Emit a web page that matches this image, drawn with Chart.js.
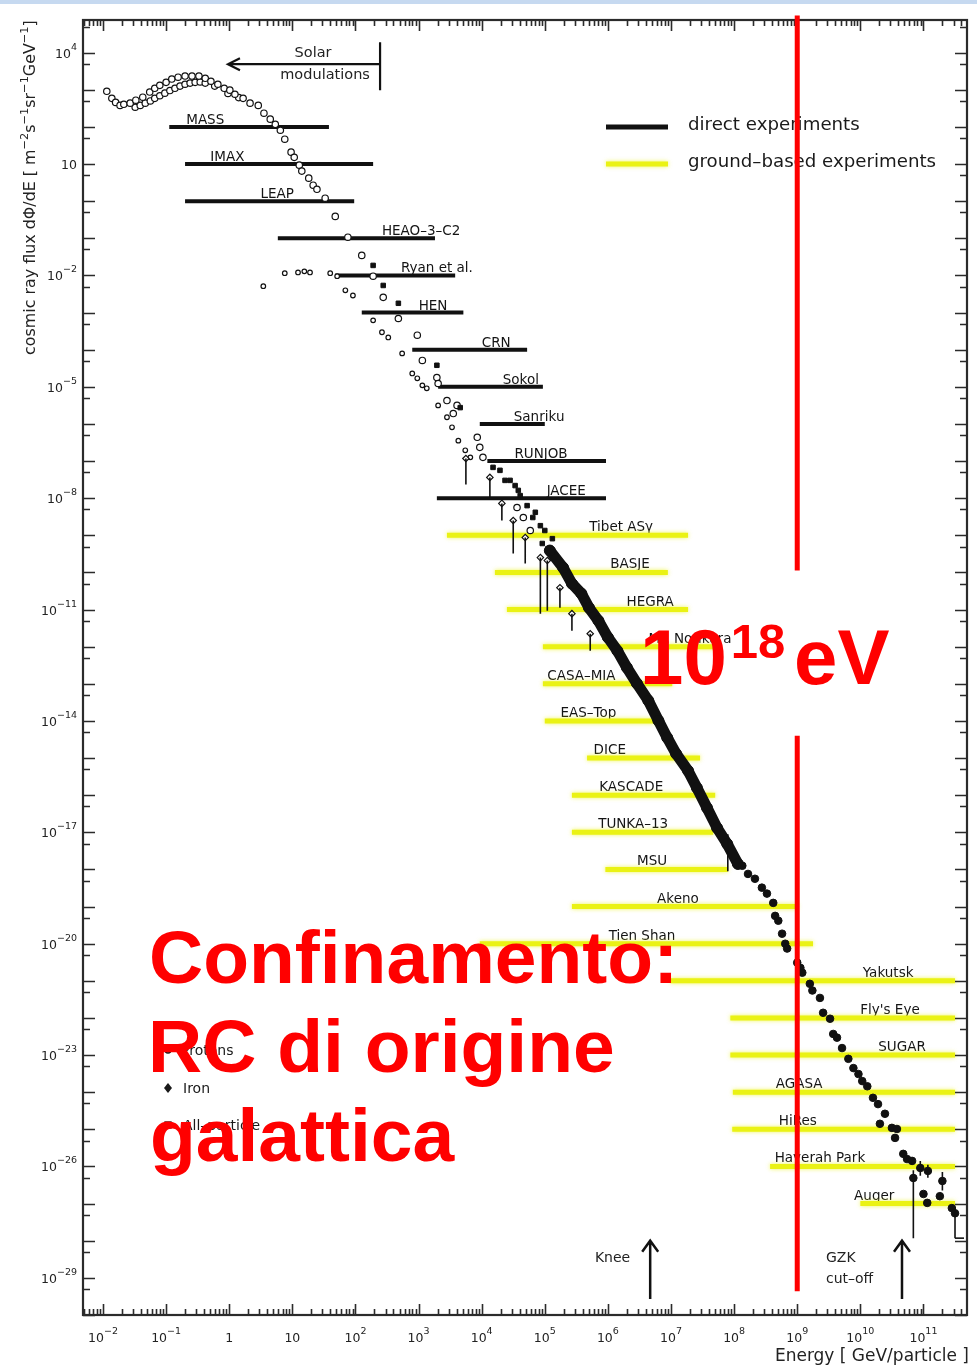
<!DOCTYPE html>
<html>
<head>
<meta charset="utf-8">
<title>Cosmic ray spectrum</title>
<script src="https://cdn.jsdelivr.net/npm/chart.js@4.4.1/dist/chart.umd.min.js"></script>
<style>
  html, body { margin: 0; padding: 0; background: #fff; }
  #wrap { position: relative; width: 977px; height: 1365px; overflow: hidden; }
  #wrap canvas { position: absolute; left: 0; top: 0; }
  #topband { position: absolute; left: 0; top: 0; width: 977px; height: 4px; background: #c6d9f0; }
</style>
</head>
<body>
<div id="wrap">
  <canvas id="spectrum" width="977" height="1365"></canvas>
  <div id="topband"></div>
</div>
<script>
// All values: [log10(E / GeV), log10(flux / m^-2 s^-1 sr^-1 GeV^-1)]

// low-energy proton measurements (open circles)
const protonsLow = [
  [-1.94,2.96],[-1.86,2.77],[-1.80,2.66],[-1.73,2.58],[-1.67,2.61],[-1.57,2.64],[-1.48,2.72],[-1.37,2.80],
  [-1.26,2.94],[-1.18,3.04],[-1.10,3.12],[-1.00,3.20],[-0.91,3.29],[-0.81,3.34],[-0.70,3.37],[-0.59,3.37],
  [-0.48,3.37],[-0.38,3.31],[-0.29,3.23],[-0.18,3.15],[-0.08,3.04],[0.01,2.99],[0.09,2.88],[0.22,2.77],
  [0.33,2.64],[0.46,2.58],[0.55,2.37],[0.65,2.21],[0.73,2.07],[0.81,1.91],[0.88,1.67],[0.98,1.32],
  [1.03,1.18],[1.11,0.97],[1.15,0.81],[1.26,0.62],[1.33,0.43],[1.39,0.32],[1.52,0.08],[1.68,-0.41],
  [1.88,-0.97],[2.10,-1.46]
];
const protonsLow2 = [
  [-1.49,2.53],[-1.41,2.58],[-1.33,2.64],[-1.25,2.70],[-1.18,2.77],[-1.10,2.84],[-1.02,2.91],[-0.94,2.98],
  [-0.86,3.04],[-0.78,3.10],[-0.70,3.15],[-0.62,3.18],[-0.54,3.20],[-0.46,3.21],[-0.38,3.18],[-0.23,3.10],
  [-0.02,2.90],[0.15,2.79]
];
// iron measurements
const ironPts = [
  [0.54,-2.29],[0.88,-1.94],[1.09,-1.92],[1.19,-1.89],[1.28,-1.92],[1.60,-1.94],[1.71,-2.02],[1.84,-2.40],
  [1.96,-2.54],[2.28,-3.21],[2.42,-3.53],[2.52,-3.67],[2.74,-4.10],[2.90,-4.64],[2.98,-4.77],[3.06,-4.96],
  [3.13,-5.04],[3.31,-5.50],[3.45,-5.82],[3.53,-6.09],[3.63,-6.45],[3.74,-6.71],[3.82,-6.90]
];
// direct measurements between 100 GeV and the knee
const midFilled = [
  [2.28,-1.73],[2.44,-2.27],[2.68,-2.75],[3.29,-4.42],[3.66,-5.56],[4.18,-7.17],[4.45,-7.52],[4.58,-7.79],
  [4.29,-7.25],[4.37,-7.52],[4.53,-7.66],[4.61,-7.93],[4.72,-8.20],[4.85,-8.38],[4.93,-8.74],[5.00,-8.87],
  [5.12,-9.09],[5.05,-9.36],[5.18,-9.68],[4.81,-8.52],[4.96,-9.22]
];
const midOpen = [
  [2.28,-2.02],[2.44,-2.59],[2.68,-3.16],[2.98,-3.61],[3.06,-4.29],[3.29,-4.75],[3.31,-4.91],[3.45,-5.37],
  [3.61,-5.50],[3.55,-5.72],[3.93,-6.36],[3.97,-6.63],[4.02,-6.90],[4.56,-8.25],[4.66,-8.52],[4.77,-8.87]
];
// limits: [log10 E, log10 flux at marker, log10 flux at lower end]
const limitPts = [
  [3.75,-6.93,-7.63],[4.13,-7.44,-7.98],[4.32,-8.14,-8.60],[4.50,-8.60,-9.49],[4.69,-9.06,-9.76],
  [4.93,-9.60,-11.11],[5.04,-9.68,-11.03],[5.24,-10.41,-10.95],[5.43,-11.11,-11.57],[5.72,-11.65,-12.11]
];
// all-particle spectrum (air-shower arrays)
const allParticleBand = [
  [5.08,-9.41],[5.29,-9.87],[5.43,-10.30],[5.58,-10.57],[5.70,-10.95],[5.85,-11.30],[6.00,-11.75],
  [6.15,-12.11],[6.30,-12.56],[6.46,-12.99],[6.64,-13.45],[6.80,-13.99],[6.94,-14.45],[7.08,-14.88],
  [7.27,-15.34],[7.41,-15.80],[7.57,-16.34],[7.73,-16.88],[7.89,-17.31],[8.06,-17.85]
];
const allParticleHigh = [
  [8.13,-17.90],[8.22,-18.12],[8.33,-18.25],[8.44,-18.49],[8.52,-18.65],[8.62,-18.90],[8.65,-19.25],
  [8.70,-19.38],[8.76,-19.73],[8.81,-20.00],[8.84,-20.13],[9.00,-20.51],[9.05,-20.65],[9.08,-20.78],
  [9.20,-21.08],[9.24,-21.26],[9.36,-21.46],[9.41,-21.86],[9.52,-22.02],[9.57,-22.43],[9.63,-22.53],
  [9.71,-22.81],[9.81,-23.10],[9.89,-23.35],[9.97,-23.51],[10.03,-23.70],[10.11,-23.84],[10.20,-24.15],
  [10.28,-24.32],[10.31,-24.85],[10.39,-24.58],[10.50,-24.96],[10.58,-24.99],[10.55,-25.23],[10.68,-25.66],
  [10.74,-25.80],[10.82,-25.85],[10.84,-26.31],[10.95,-26.04],[11.07,-26.12],[11.00,-26.74],[11.06,-26.98],
  [11.30,-26.39],[11.26,-26.80],[11.45,-27.12],[11.50,-27.26]
];
// error bars: [log10 E, upper, lower]
const errorBars = [
  [7.90,-17.05,-18.05],[10.84,-26.10,-27.93],[10.95,-25.85,-26.25],[11.30,-26.15,-26.65],
  [11.07,-25.95,-26.30],[11.50,-27.10,-27.93]
];

// experiment energy ranges (log10 GeV), drawn at one decade of flux each
const directNames   = ['MASS','IMAX','LEAP','HEAO\u20133\u2013C2','Ryan et al.','HEN','CRN','Sokol','Sanriku','RUNJOB','JACEE'];
const directFrom    = [-0.95,-0.70,-0.70,0.77,1.68,2.10,2.90,3.31,3.97,4.09,3.29];
const directTo      = [1.58,2.28,1.98,3.26,3.58,3.71,4.72,4.97,5.00,5.97,5.97];
const directLevel   = [2,1,0,-1,-2,-3,-4,-5,-6,-7,-8];
const directLabelAt = [-0.38,-0.03,0.76,3.04,3.29,3.23,4.23,4.62,4.91,4.94,5.34];

const groundNames   = ['Tibet AS\u03b3','BASJE','HEGRA','Mt. Norikura','CASA\u2013MIA','EAS\u2013Top','DICE','KASCADE','TUNKA\u201313','MSU',
                       'Akeno','Tien Shan','Yakutsk',"Fly's Eye",'SUGAR','AGASA','HiRes','Haverah Park','Auger'];
const groundFrom    = [3.45,4.21,4.40,4.97,4.97,5.00,5.67,5.43,5.43,5.96,5.43,3.97,6.99,7.94,7.94,7.98,7.97,8.57,10.00];
const groundTo      = [7.27,6.95,7.27,7.75,7.02,6.75,7.46,7.70,7.67,7.90,9.01,9.25,11.50,11.50,11.50,11.50,11.50,11.50,11.50];
const groundLevel   = [-9,-10,-11,-12,-13,-14,-15,-16,-17,-18,-19,-20,-21,-22,-23,-24,-25,-26,-27];
const groundLabelAt = [6.21,6.35,6.67,7.30,5.58,5.69,6.03,6.37,6.40,6.70,7.11,6.54,10.44,10.47,10.66,9.03,9.01,9.36,10.22];

// axis decades carrying a label
const yLabelExponents = [4,1,-2,-5,-8,-11,-14,-17,-20,-23,-26,-29];
const xLabelExponents = [-2,-1,0,1,2,3,4,5,6,7,8,9,10,11];

// annotations
const redLineEnergy = 1e9;                         // 10^18 eV expressed in GeV
const redLineSpans  = [[5.0,-9.95],[-14.4,-29.36]]; // log10 flux extents of the two pieces
const kneeEnergy = 6.67, gzkEnergy = 10.66;         // log10 GeV
const arrowFlux = [-28.0,-29.57];                   // log10 flux, head and tail
const solarRange = [2.39,-0.02,3.69];               // from, to (log10 GeV), at log10 flux
const solarBar = [4.28,2.99];

// ---------------------------------------------------------------
const toXY = arr => arr.map(([e, f]) => ({ x: Math.pow(10, e), y: Math.pow(10, f) }));
function rangeSegments(from, to, level) {
  const d = [];
  for (let i = 0; i < from.length; i++) {
    const y = Math.pow(10, level[i]);
    d.push({ x: Math.pow(10, from[i]), y }, { x: Math.pow(10, to[i]), y }, { x: Math.pow(10, to[i]), y: null });
  }
  return d;
}
const BLACK = '#111';
const YELLOW = 'rgb(234,242,20)';
const FONT = '"DejaVu Sans", "Liberation Sans", sans-serif';

function drawSup(ctx, parts, x, y, size, supSize, rise) {
  let cx = x;
  for (const [t, sup] of parts) {
    ctx.font = (sup ? supSize : size) + 'px ' + FONT;
    ctx.fillText(t, cx, sup ? y - rise : y);
    cx += ctx.measureText(t).width;
  }
  return cx - x;
}
function measureSup(ctx, parts, size, supSize) {
  let w = 0;
  for (const [t, sup] of parts) { ctx.font = (sup ? supSize : size) + 'px ' + FONT; w += ctx.measureText(t).width; }
  return w;
}
function expParts(e) {
  if (e === 0) return [['1', 0]];
  if (e === 1) return [['10', 0]];
  return [['10', 0], [(e < 0 ? '\u2212' : '') + Math.abs(e), 1]];
}

const labelsPlugin = {
  id: 'experimentLabels',
  beforeDatasetsDraw(chart) {
    const { ctx, scales: { x, y } } = chart;
    ctx.save();
    ctx.fillStyle = '#141414';
    ctx.textAlign = 'center';
    ctx.textBaseline = 'alphabetic';
    ctx.font = '13.5px ' + FONT;
    directNames.forEach((n, i) => {
      ctx.fillText(n, x.getPixelForValue(Math.pow(10, directLabelAt[i])), y.getPixelForValue(Math.pow(10, directLevel[i])) - 3);
    });
    groundNames.forEach((n, i) => {
      ctx.fillText(n, x.getPixelForValue(Math.pow(10, groundLabelAt[i])), y.getPixelForValue(Math.pow(10, groundLevel[i])) - 4);
    });
    ctx.restore();
  },
  beforeDatasetDraw(chart, args) {
    const ds = chart.data.datasets[args.index];
    if (ds.glow) {
      chart.ctx.save();
      chart.ctx.shadowColor = ds.glow;
      chart.ctx.shadowBlur = 4;
    }
  },
  afterDatasetDraw(chart, args) {
    if (chart.data.datasets[args.index].glow) chart.ctx.restore();
  }
};

const decorPlugin = {
  id: 'decor',
  afterDatasetsDraw(chart) {
    const { ctx, chartArea: a, scales: { x, y } } = chart;
    const X = e => x.getPixelForValue(Math.pow(10, e));
    const Y = f => y.getPixelForValue(Math.pow(10, f));
    ctx.save();

    // vertical error bars and limits
    ctx.strokeStyle = BLACK;
    ctx.lineWidth = 1.6;
    ctx.beginPath();
    for (const [e, t, b] of limitPts) { ctx.moveTo(X(e), Y(t)); ctx.lineTo(X(e), Y(b)); }
    for (const [e, t, b] of errorBars) { ctx.moveTo(X(e), Y(t)); ctx.lineTo(X(e), Y(b)); }
    ctx.stroke();
    // closing hook of the last upper limit
    const last = errorBars[errorBars.length - 1];
    ctx.beginPath();
    ctx.moveTo(X(last[0]), Y(last[2])); ctx.lineTo(X(last[0]) + 9, Y(last[2]));
    ctx.stroke();

    // frame and ticks
    ctx.strokeStyle = '#2b2b2b';
    ctx.lineWidth = 2.2;
    ctx.strokeRect(a.left, a.top, a.right - a.left, a.bottom - a.top);
    ctx.lineWidth = 1.6;
    ctx.beginPath();
    for (let e = -3; e <= 12; e++) for (let m = 1; m <= 9; m++) {
      const v = m * Math.pow(10, e);
      if (v <= x.min || v >= x.max) continue;
      const px = Math.round(x.getPixelForValue(v)) + 0.5;
      const len = m === 1 ? 11 : 6;
      ctx.moveTo(px, a.bottom); ctx.lineTo(px, a.bottom - len);
      ctx.moveTo(px, a.top); ctx.lineTo(px, a.top + len);
    }
    for (let e = -31; e <= 6; e++) for (const [m, len] of [[1, 12], [0.5, 7]]) {
      const v = m * Math.pow(10, e);
      if (v <= y.min || v >= y.max) continue;
      const py = Math.round(y.getPixelForValue(v)) + 0.5;
      ctx.moveTo(a.left, py); ctx.lineTo(a.left + len, py);
      ctx.moveTo(a.right, py); ctx.lineTo(a.right - len, py);
    }
    ctx.stroke();

    // tick labels
    ctx.fillStyle = '#222';
    ctx.textAlign = 'left';
    ctx.textBaseline = 'alphabetic';
    for (const e of yLabelExponents) {
      const parts = expParts(e);
      const w = measureSup(ctx, parts, 12.5, 9.5);
      const py = Y(e);
      drawSup(ctx, parts, a.left - 6 - w, py + 5, 12.5, 9.5, 8);
    }
    for (const e of xLabelExponents) {
      const parts = expParts(e);
      const w = measureSup(ctx, parts, 12.5, 9.5);
      drawSup(ctx, parts, X(e) - w / 2, a.bottom + 27, 12.5, 9.5, 8);
    }

    // axis titles
    ctx.font = '17px ' + FONT;
    ctx.textAlign = 'right';
    ctx.fillText('Energy [ GeV/particle ]', a.right + 2, 1361);
    ctx.textAlign = 'left';
    const yTitle = [['cosmic ray flux d\u03a6/dE [ m', 0], ['\u22122', 1], ['s', 0], ['\u22121', 1], ['sr', 0], ['\u22121', 1], ['GeV', 0], ['\u22121', 1], [']', 0]];
    const w14 = measureSup(ctx, yTitle, 14, 10);
    const k = 335 / w14;
    ctx.save();
    ctx.translate(35, 355);
    ctx.rotate(-Math.PI / 2);
    drawSup(ctx, yTitle, 0, 0, 14 * k, 10 * k, 6 * k);
    ctx.restore();

    // solar modulation marker
    ctx.strokeStyle = BLACK;
    ctx.lineWidth = 2.2;
    const sx0 = X(solarRange[0]), sx1 = X(solarRange[1]), sy = Y(solarRange[2]);
    ctx.beginPath();
    ctx.moveTo(sx0, sy); ctx.lineTo(sx1, sy);
    ctx.moveTo(sx1 + 12, sy - 6); ctx.lineTo(sx1, sy); ctx.lineTo(sx1 + 12, sy + 6);
    ctx.moveTo(sx0, Y(solarBar[0])); ctx.lineTo(sx0, Y(solarBar[1]));
    ctx.stroke();
    ctx.font = '14.5px ' + FONT;
    ctx.textAlign = 'center';
    ctx.fillText('Solar', sx0 - 67, sy - 7);
    ctx.fillText('modulations', sx0 - 55, sy + 15);

    // knee and GZK arrows
    ctx.lineWidth = 2.5;
    for (const e of [kneeEnergy, gzkEnergy]) {
      const ax = X(e), top = Y(arrowFlux[0]), bot = Y(arrowFlux[1]);
      ctx.beginPath();
      ctx.moveTo(ax, bot); ctx.lineTo(ax, top);
      ctx.moveTo(ax - 8, top + 11); ctx.lineTo(ax, top); ctx.lineTo(ax + 8, top + 11);
      ctx.stroke();
    }
    ctx.font = '14px ' + FONT;
    ctx.textAlign = 'right';
    ctx.fillText('Knee', X(kneeEnergy) - 20, 1262);
    ctx.textAlign = 'left';
    ctx.fillText('GZK', X(gzkEnergy) - 76, 1262);
    ctx.fillText('cut\u2013off', X(gzkEnergy) - 76, 1283);

    // legend of experiment types
    ctx.lineWidth = 5;
    ctx.strokeStyle = BLACK;
    ctx.beginPath(); ctx.moveTo(606, 127); ctx.lineTo(668, 127); ctx.stroke();
    ctx.save();
    ctx.shadowColor = 'rgba(234,242,20,0.7)'; ctx.shadowBlur = 4;
    ctx.strokeStyle = YELLOW;
    ctx.beginPath(); ctx.moveTo(606, 164); ctx.lineTo(668, 164); ctx.stroke();
    ctx.restore();
    ctx.font = '18.2px ' + FONT;
    ctx.fillStyle = '#1a1a1a';
    ctx.fillText('direct experiments', 688, 130);
    ctx.fillText('ground\u2013based experiments', 688, 167);

    // legend of particle species
    ctx.font = '14px ' + FONT;
    ctx.fillText('Protons', 181, 1055);
    ctx.fillText('Iron', 183, 1093);
    ctx.fillText('All\u2013particle', 183, 1130);
    ctx.lineWidth = 1.3;
    ctx.beginPath(); ctx.arc(168, 1050, 3, 0, Math.PI * 2); ctx.stroke();
    ctx.beginPath(); ctx.moveTo(168, 1083); ctx.lineTo(172, 1088); ctx.lineTo(168, 1093); ctx.lineTo(164, 1088); ctx.closePath(); ctx.fill();
    ctx.strokeRect(165, 1122, 6, 6);

    ctx.restore();
  },
  afterDraw(chart) {
    const { ctx, scales: { x, y } } = chart;
    ctx.save();
    // 10^18 eV marker
    const rx = x.getPixelForValue(redLineEnergy);
    ctx.strokeStyle = '#ff0000';
    ctx.lineWidth = 5;
    ctx.beginPath();
    for (const [f0, f1] of redLineSpans) {
      ctx.moveTo(rx, y.getPixelForValue(Math.pow(10, f0)));
      ctx.lineTo(rx, y.getPixelForValue(Math.pow(10, f1)));
    }
    ctx.stroke();

    ctx.fillStyle = '#ff0000';
    ctx.textAlign = 'left';
    ctx.textBaseline = 'alphabetic';
    const big = 'bold 78px "Liberation Sans", Arial, sans-serif';
    ctx.font = big;
    ctx.fillText('10', 640, 684);
    const w10 = ctx.measureText('10').width;
    ctx.font = 'bold 49px "Liberation Sans", Arial, sans-serif';
    ctx.fillText('18', 640 + w10 + 4, 658);
    ctx.font = big;
    ctx.fillText('eV', 794, 684);

    ctx.font = 'bold 75px "Liberation Sans", Arial, sans-serif';
    ctx.fillText('Confinamento:', 149, 983);
    ctx.fillText('RC di origine', 148, 1072);
    ctx.fillText('galattica', 150, 1161);
    ctx.restore();
  }
};

const openCircle = { pointStyle: 'circle', backgroundColor: '#fff', borderColor: BLACK, pointBorderWidth: 1.2 };

new Chart(document.getElementById('spectrum'), {
  type: 'scatter',
  data: {
    datasets: [
      { label: 'All-particle', data: toXY(allParticleHigh), pointStyle: 'circle', pointRadius: 3.8,
        backgroundColor: BLACK, borderColor: BLACK },
      { label: 'All-particle', data: toXY(allParticleBand), showLine: true, borderWidth: 11, borderColor: BLACK,
        borderCapStyle: 'round', borderJoinStyle: 'round', pointRadius: 5.5, pointBorderWidth: 1,
        pointBackgroundColor: BLACK, pointBorderColor: BLACK },
      { label: 'All-particle', data: toXY(midFilled), pointStyle: 'rect', pointRadius: 3.2,
        backgroundColor: BLACK, borderColor: BLACK },
      { label: 'All-particle', data: toXY(midOpen), ...openCircle, pointRadius: 3.2 },
      { label: 'limits', data: toXY(limitPts.map(p => [p[0], p[1]])), pointStyle: 'rectRot', pointRadius: 3.2,
        backgroundColor: '#fff', borderColor: BLACK, pointBorderWidth: 1.2 },
      { label: 'Iron', data: toXY(ironPts), ...openCircle, pointRadius: 2.3 },
      { label: 'Protons', data: toXY(protonsLow), ...openCircle, pointRadius: 3.2 },
      { label: 'Protons', data: toXY(protonsLow2), ...openCircle, pointRadius: 3.2 },
      { label: 'direct experiments', data: rangeSegments(directFrom, directTo, directLevel), showLine: true,
        borderColor: BLACK, borderWidth: 4, pointRadius: 0, spanGaps: false },
      { label: 'ground-based experiments', data: rangeSegments(groundFrom, groundTo, groundLevel), showLine: true,
        borderColor: YELLOW, borderWidth: 5, pointRadius: 0, spanGaps: false, glow: 'rgba(234,242,20,0.7)' }
    ]
  },
  options: {
    responsive: false,
    animation: false,
    layout: { padding: { left: 83, top: 20, right: 10, bottom: 50 } },
    plugins: { legend: { display: false }, tooltip: { enabled: false } },
    scales: {
      x: { type: 'logarithmic', min: Math.pow(10, -2.317), max: Math.pow(10, 11.69), display: false },
      y: { type: 'logarithmic', min: 1e-30, max: Math.pow(10, 4.88), display: false }
    }
  },
  plugins: [labelsPlugin, decorPlugin]
});
</script>
</body>
</html>
